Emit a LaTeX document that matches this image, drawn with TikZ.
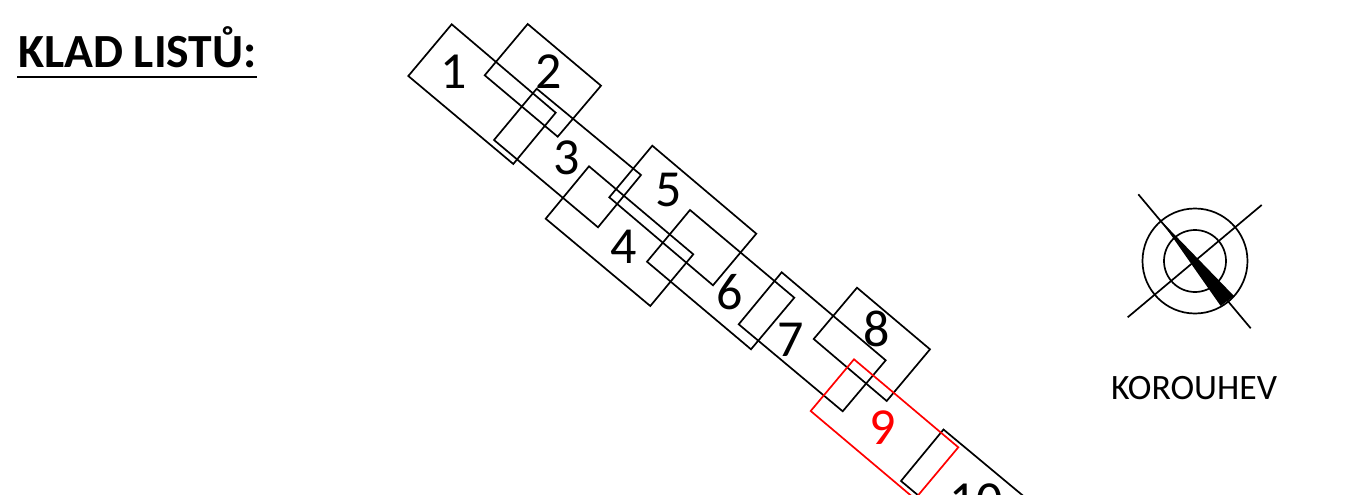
\documentclass[tikz,border=0pt]{standalone}
\usepackage{fontspec}
\setmainfont{Carlito}
\tikzset{
  plate/.style={draw=black,line width=1.7pt,line join=miter},
  redplate/.style={draw=red,line width=1.7pt,line join=miter},
  num/.style={inner sep=0pt,font=\fontsize{52}{52}\selectfont,text=black},
  rednum/.style={num,text=red},
  ring/.style={draw=black,line width=1.7pt},
  cross/.style={draw=black,line width=1.7pt}
}
\begin{document}
\begin{tikzpicture}[x=1pt,y=-1pt]
\useasboundingbox (0,0) rectangle (1361,495);
\clip (0,0) rectangle (1361,495);
\fill[white] (0,0) rectangle (1361,495);
% title
\node[inner sep=0pt,anchor=base west,font=\fontsize{47.6}{48}\selectfont\bfseries] (title) at (18,67) {KLAD LISTŮ:};
\coordinate (ula) at (17,77.5);
\coordinate (ulb) at (257,77.5);
\draw[line width=2pt] (ula) -- (ulb);
% plates: top, left, bottom, right
\draw[plate] (451.7,24.3) -- (408.3,76) -- (513.3,164) -- (555.7,112.7) -- cycle;
\draw[plate] (527.7,24) -- (484.7,75.3) -- (557.7,136.7) -- (601,85.7) -- cycle;
\draw[plate] (536.7,88.7) -- (494,140) -- (598,227.3) -- (641,175) -- cycle;
\draw[plate] (589,166.3) -- (545.7,218.7) -- (650.3,306) -- (693.3,254.3) -- cycle;
\draw[plate] (652.3,145.7) -- (609.3,197.3) -- (713,285.3) -- (756.3,233.7) -- cycle;
\draw[plate] (690,210) -- (647,261.7) -- (751,349.3) -- (794.3,297.7) -- cycle;
\draw[plate] (781.7,272.3) -- (738.7,324.3) -- (842.7,411.3) -- (885.7,360.3) -- cycle;
\draw[plate] (857,287.7) -- (813.7,339) -- (886.7,401) -- (930,349.3) -- cycle;
\draw[plate] (943.5,429.5) -- (901,481) -- (1005,568) -- (1048,516.5) -- cycle;
\draw[redplate] (854,359.3) -- (810.7,411) -- (915,499) -- (958.3,447.3) -- cycle;
% numbers
\node[num] (n1) at (454,72) {1};
\node[num] (n2) at (549,72) {2};
\node[num] (n3) at (567,158) {3};
\node[num] (n4) at (624,247) {4};
\node[num] (n5) at (669,190) {5};
\node[num] (n6) at (730,292) {6};
\node[num] (n7) at (791,340) {7};
\node[num] (n8) at (877,329) {8};
\node[rednum] (n9) at (883,428) {9};
\node[num] (n10) at (976,501) {10};
% compass
\coordinate (cc) at (1195,261);
\draw[ring] (cc) circle[radius=52.5];
\draw[ring] (cc) circle[radius=31];
\coordinate (a1) at (1138.3,194.3);
\coordinate (a2) at (1250.7,328.3);
\coordinate (b1) at (1127.7,317.3);
\coordinate (b2) at (1261.7,205);
\draw[cross] (a1) -- (a2);
\draw[cross] (b1) -- (b2);
\coordinate (tip) at (1161,220.7);
\coordinate (base1) at (1234,296);
\coordinate (base2) at (1220.7,306);
\fill[black] (tip) -- (base1) -- (base2) -- cycle;
\node[inner sep=0pt,font=\fontsize{35.7}{36}\selectfont] (kor) at (1194,388) {KOROUHEV};
\end{tikzpicture}
\end{document}
